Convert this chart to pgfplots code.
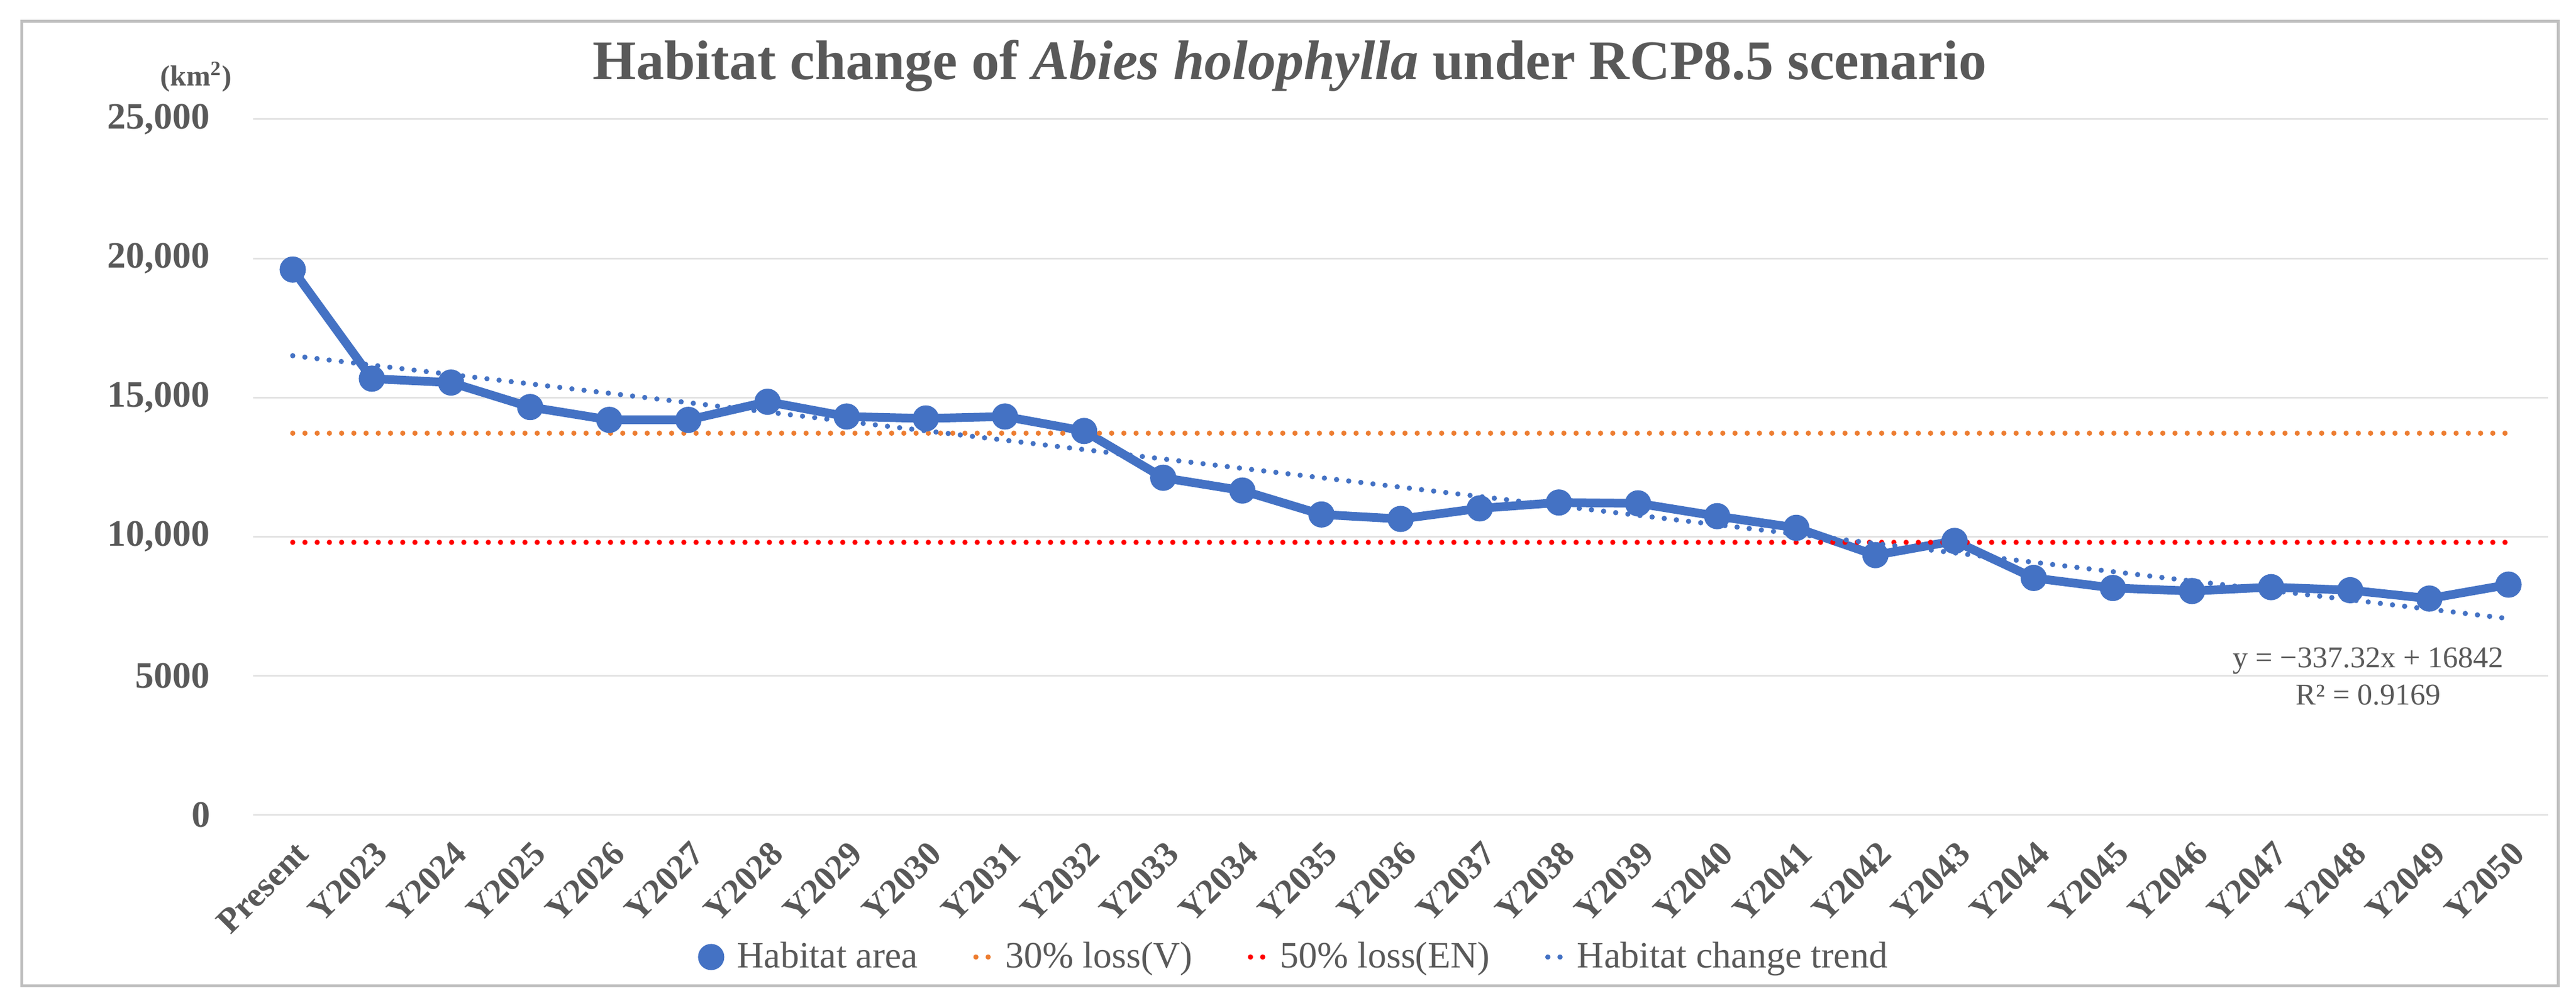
\documentclass[border=0pt]{standalone}
\usepackage{pgfplots}
\pgfplotsset{compat=1.18}
\usepackage{fontspec}
\setmainfont{Liberation Serif}

\definecolor{habblue}{HTML}{4472C4}
\definecolor{lossorange}{HTML}{ED7D31}
\definecolor{lossred}{HTML}{FF0000}
\definecolor{txtgray}{HTML}{595959}
\definecolor{gridgray}{HTML}{E3E3E3}
\definecolor{framegray}{HTML}{BFBFBF}

% 1 px of the reference = 0.2pt
\begin{document}
\begin{tikzpicture}
\useasboundingbox (0,0) rectangle (885.2pt,344.8pt);
\fill[white] (0,0) rectangle (885.2pt,344.8pt);
\draw[line width=1pt, framegray] (7.4pt,5.8pt) rectangle (879pt,337.4pt);

\node[anchor=base, text=txtgray, font=\fontsize{19.2}{22}\selectfont\rmfamily\bfseries]
  at (443.2pt,317.4pt) {Habitat change of \textit{Abies holophylla} under RCP8.5 scenario};
\node[anchor=center, text=txtgray, font=\fontsize{10}{12}\selectfont\rmfamily\bfseries]
  at (67.4pt,318.4pt) {(km\textsuperscript{2})};

\begin{axis}[
    at={(87pt,64.6pt)}, anchor=south west,
    scale only axis,
    width=788.6pt, height=239.2pt,
    xmin=-0.5, xmax=28.5,
    ymin=0, ymax=25000,
    clip=false,
    scaled y ticks=false,
    axis line style={draw=none},
    tick style={draw=none},
    ymajorgrids=true,
    grid style={gridgray, line width=0.6pt},
    ytick={0,5000,10000,15000,20000,25000},
    yticklabels={\textbf{0},\textbf{5000},\textbf{10,000},\textbf{15,000},\textbf{20,000},\textbf{25,000}},
    yticklabel style={anchor=east, inner sep=0pt, xshift=-14.6pt, text=txtgray,
        font=\fontsize{12.8}{15}\selectfont\rmfamily},
    xtick={0,...,28},
    xticklabels={\textbf{Present},\textbf{Y2023},\textbf{Y2024},\textbf{Y2025},\textbf{Y2026},
        \textbf{Y2027},\textbf{Y2028},\textbf{Y2029},\textbf{Y2030},\textbf{Y2031},\textbf{Y2032},
        \textbf{Y2033},\textbf{Y2034},\textbf{Y2035},\textbf{Y2036},\textbf{Y2037},\textbf{Y2038},
        \textbf{Y2039},\textbf{Y2040},\textbf{Y2041},\textbf{Y2042},\textbf{Y2043},\textbf{Y2044},
        \textbf{Y2045},\textbf{Y2046},\textbf{Y2047},\textbf{Y2048},\textbf{Y2049},\textbf{Y2050}},
    xticklabel style={xshift=0.4pt, yshift=-8.2pt, rotate=45, anchor=north east, inner sep=0pt,
        text=txtgray, font=\fontsize{12}{14}\selectfont\rmfamily},
    legend columns=4,
    legend style={at={(0.453,-0.204)}, anchor=center, draw=none, fill=none,
        text=txtgray, font=\fontsize{12.8}{15}\selectfont\rmfamily,
        nodes={inner sep=0pt, font=\fontsize{12.8}{15}\selectfont\rmfamily},
        /tikz/every odd column/.append style={column sep=4.4pt},
        /tikz/every even column/.append style={column sep=19pt}},
]
\addplot[habblue, line width=3pt, mark=*, mark size=3pt,
    legend image code/.code={
        \draw[habblue, line width=3pt] (0pt,0pt) -- (6pt,0pt);
        \fill[habblue] (3pt,0pt) circle (3pt);}]
coordinates {
(0,19600) (1,15680) (2,15540) (3,14660) (4,14200) (5,14200) (6,14850)
(7,14320) (8,14250) (9,14320) (10,13800) (11,12120) (12,11660) (13,10800)
(14,10640) (15,11020) (16,11230) (17,11200) (18,10740) (19,10320) (20,9340)
(21,9850) (22,8520) (23,8160) (24,8050) (25,8190) (26,8080) (27,7780) (28,8280)
};
\addlegendentry{Habitat area}

\addplot[lossorange, line width=1.8pt, line cap=round, dash pattern=on 0pt off 4.2pt,
    legend image code/.code={
        \draw[lossorange, line width=1.8pt, line cap=round, dash pattern=on 0pt off 4.2pt] (0pt,0pt) -- (4.8pt,0pt);}]
coordinates {(0,13720) (28,13720)};
\addlegendentry{30\% loss(V)}

\addplot[lossred, line width=1.8pt, line cap=round, dash pattern=on 0pt off 4.2pt,
    legend image code/.code={
        \draw[lossred, line width=1.8pt, line cap=round, dash pattern=on 0pt off 4.2pt] (0pt,0pt) -- (4.8pt,0pt);}]
coordinates {(0,9800) (28,9800)};
\addlegendentry{50\% loss(EN)}

\addplot[habblue, line width=1.8pt, line cap=round, dash pattern=on 0pt off 4.2pt,
    legend image code/.code={
        \draw[habblue, line width=1.8pt, line cap=round, dash pattern=on 0pt off 4.2pt] (0pt,0pt) -- (4.8pt,0pt);}]
coordinates {(0,16504.68) (28,7059.72)};
\addlegendentry{Habitat change trend}
\end{axis}

\node[anchor=base, text=txtgray, font=\fontsize{10.4}{12}\selectfont\rmfamily]
  at (813.8pt,115.2pt) {y = −337.32x + 16842};
\node[anchor=base, text=txtgray, font=\fontsize{10.4}{12}\selectfont\rmfamily]
  at (813.8pt,102.4pt) {R² = 0.9169};
\end{tikzpicture}
\end{document}
